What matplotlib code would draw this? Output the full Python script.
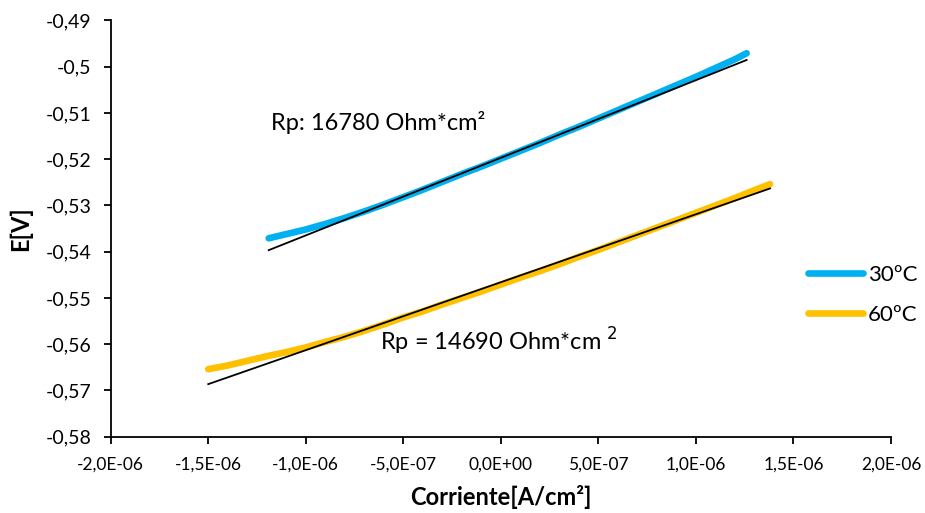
import numpy as np
import matplotlib
matplotlib.use('Agg')
import matplotlib.pyplot as plt
from matplotlib.lines import Line2D

plt.rcParams['font.family'] = ['Lato', 'DejaVu Sans']

# polarisation curves, current in A/cm2, potential in V
I_30 = [-1.19, -1.10, -1.00, -0.90, -0.80, -0.70, -0.60, -0.50, -0.40, -0.30,
        -0.20, -0.10, 0.00, 0.10, 0.20, 0.30, 0.40, 0.50, 0.60, 0.70,
        0.80, 0.90, 1.00, 1.10, 1.20, 1.26]
E_30 = [-0.5371, -0.5362, -0.5352, -0.5340, -0.5327, -0.5313, -0.5298, -0.5282,
        -0.5266, -0.5249, -0.5232, -0.5216, -0.5199, -0.5182, -0.5165, -0.5147,
        -0.5130, -0.5112, -0.5094, -0.5076, -0.5058, -0.5040, -0.5022, -0.5003,
        -0.4984, -0.4971]

I_60 = [-1.50, -1.40, -1.30, -1.20, -1.10, -1.00, -0.90, -0.80, -0.70, -0.60,
        -0.50, -0.40, -0.30, -0.20, -0.10, 0.00, 0.10, 0.20, 0.30, 0.40,
        0.50, 0.60, 0.70, 0.80, 0.90, 1.00, 1.10, 1.20, 1.30, 1.38]
E_60 = [-0.5654, -0.5646, -0.5636, -0.5626, -0.5617, -0.5607, -0.5595, -0.5584,
        -0.5571, -0.5557, -0.5542, -0.5529, -0.5514, -0.5500, -0.5486, -0.5471,
        -0.5456, -0.5442, -0.5427, -0.5411, -0.5396, -0.5380, -0.5364, -0.5348,
        -0.5332, -0.5316, -0.5300, -0.5284, -0.5267, -0.5254]

# linear fits: slope = Rp (Ohm*cm2), intercept in V
RP_30, E0_30 = 16780, -0.5197
RP_60, E0_60 = 14690, -0.5466

Y_TICKS = [-0.58, -0.57, -0.56, -0.55, -0.54, -0.53, -0.52, -0.51, -0.50, -0.49]
Y_LABELS = ['-0,58', '-0,57', '-0,56', '-0,55', '-0,54', '-0,53', '-0,52', '-0,51', '-0,5', '-0,49']
X_TICKS = [-2.0e-6, -1.5e-6, -1.0e-6, -0.5e-6, 0.0, 0.5e-6, 1.0e-6, 1.5e-6, 2.0e-6]
X_LABELS = ['-2,0E-06', '-1,5E-06', '-1,0E-06', '-5,0E-07', '0,0E+00',
            '5,0E-07', '1,0E-06', '1,5E-06', '2,0E-06']

BLUE = '#00B0F0'
YELLOW = '#FFC000'

fig = plt.figure(figsize=(9.25, 5.13), dpi=100)
ax = fig.add_axes([0.1197, 0.1487, 0.8435, 0.8115])

i30 = np.array(I_30) * 1e-6
i60 = np.array(I_60) * 1e-6

ax.plot(i30, E_30, color=BLUE, lw=4.8, solid_capstyle='round', solid_joinstyle='round')
ax.plot(i60, E_60, color=YELLOW, lw=4.8, solid_capstyle='round', solid_joinstyle='round')

# trendlines over the measured range
for i, rp, e0 in [(i30, RP_30, E0_30), (i60, RP_60, E0_60)]:
    xs = np.array([i.min(), i.max()])
    ax.plot(xs, e0 + rp * xs, color='black', lw=1.3)

ax.text(-1.178e-6, -0.5120, f'Rp: {RP_30} Ohm*cm²', fontsize=17, va='center', ha='left')
ax.text(-0.62e-6, -0.5593, f'Rp = {RP_60} Ohm*cm $^2$', fontsize=17, va='center', ha='left')

ax.set_xlim(-2e-6, 2e-6)
ax.set_ylim(-0.58, -0.49)
ax.set_xticks(X_TICKS)
ax.set_xticklabels(X_LABELS)
ax.set_yticks(Y_TICKS)
ax.set_yticklabels(Y_LABELS)
ax.tick_params(direction='out', length=5, width=1.3)
ax.tick_params(axis='y', labelsize=14, pad=9)
ax.tick_params(axis='x', labelsize=12.5, pad=9)

for side in ['top', 'right']:
    ax.spines[side].set_visible(False)
for side in ['left', 'bottom']:
    ax.spines[side].set_linewidth(1.3)

ax.set_xlabel('Corriente[A/cm²]', fontsize=17, fontweight='bold', va='center')
ax.set_ylabel('E[V]', fontsize=17, fontweight='bold', va='center')
ax.xaxis.set_label_coords(0.5, -0.145)
ax.yaxis.set_label_coords(-0.116, 0.5)

handles = [
    Line2D([0], [0], color=BLUE, lw=4.8, solid_capstyle='round', label='30ºC'),
    Line2D([0], [0], color=YELLOW, lw=4.8, solid_capstyle='round', label='60ºC'),
]
fig.legend(handles=handles, loc='center left', bbox_to_anchor=(0.873, 0.425),
           frameon=False, fontsize=16, handlelength=2.5, handletextpad=0.2,
           labelspacing=0.9, borderaxespad=0, borderpad=0)

fig.savefig('out.png', dpi=100)
